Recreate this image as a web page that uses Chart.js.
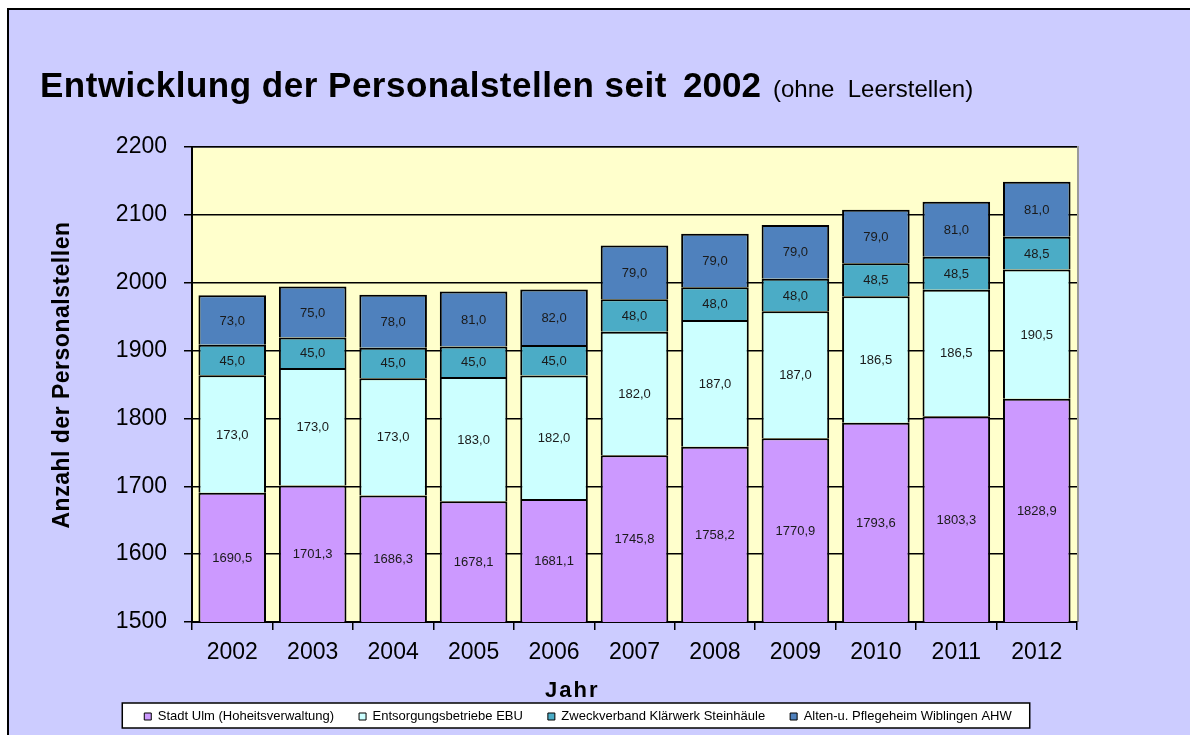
<!DOCTYPE html>
<html>
<head>
<meta charset="utf-8">
<script src="https://cdn.jsdelivr.net/npm/chart.js@4/dist/chart.umd.min.js"></script>
<style>
  html, body { margin: 0; padding: 0; background: #fff; }
  #wrap { width: 1190px; height: 735px; }
</style>
</head>
<body>
<div id="wrap"><canvas id="chart" width="1190" height="735"></canvas></div>
<script>
// data
const years = ['2002', '2003', '2004', '2005', '2006', '2007', '2008', '2009', '2010', '2011', '2012'];
const stadtUlm = [1690.5, 1701.3, 1686.3, 1678.1, 1681.1, 1745.8, 1758.2, 1770.9, 1793.6, 1803.3, 1828.9];
const ebu = [173.0, 173.0, 173.0, 183.0, 182.0, 182.0, 187.0, 187.0, 186.5, 186.5, 190.5];
const klaerwerk = [45.0, 45.0, 45.0, 45.0, 45.0, 48.0, 48.0, 48.0, 48.5, 48.5, 48.5];
const ahw = [73.0, 75.0, 78.0, 81.0, 82.0, 79.0, 79.0, 79.0, 79.0, 81.0, 81.0];
const seriesNames = ['Stadt Ulm (Hoheitsverwaltung)', 'Entsorgungsbetriebe EBU', 'Zweckverband Klärwerk Steinhäule', 'Alten-u. Pflegeheim Wiblingen AHW'];
const yTicks = [1500, 1600, 1700, 1800, 1900, 2000, 2100, 2200];

const colors = ['#CC99FF', '#CCFFFF', '#4BACC6', '#4F81BD'];
const FONT = '"Liberation Sans", Arial, sans-serif';

function fmt(v) {
  return v.toFixed(1).replace('.', ',');
}

// background, plot area, legend box, titles
const framePlugin = {
  id: 'frame',
  beforeDraw(chart) {
    const ctx = chart.ctx, a = chart.chartArea;
    ctx.save();
    ctx.fillStyle = '#fff';
    ctx.fillRect(0, 0, chart.width, chart.height);
    ctx.fillStyle = '#CCCCFF';
    ctx.fillRect(8, 9, chart.width, chart.height);
    ctx.strokeStyle = '#000';
    ctx.lineWidth = 2;
    ctx.beginPath();
    ctx.moveTo(8, chart.height);
    ctx.lineTo(8, 9);
    ctx.lineTo(chart.width, 9);
    ctx.stroke();

    ctx.fillStyle = '#FFFFCC';
    ctx.fillRect(a.left, a.top, a.right - a.left, a.bottom - a.top);
    ctx.strokeStyle = '#9a9a9a';
    ctx.lineWidth = 2;
    ctx.beginPath();
    ctx.moveTo(a.left, a.top);
    ctx.lineTo(a.right + 1, a.top);
    ctx.lineTo(a.right + 1, a.bottom);
    ctx.stroke();

    const hb = chart.legend.legendHitBoxes;
    if (hb && hb.length) {
      const first = hb[0], last = hb[hb.length - 1];
      const x0 = first.left - 22, x1 = last.left + last.width + 18;
      const y0 = first.top - 7, y1 = first.top + first.height + 5;
      ctx.fillStyle = '#fff';
      ctx.fillRect(x0, y0, x1 - x0, y1 - y0);
      ctx.strokeStyle = '#000';
      ctx.lineWidth = 1.5;
      ctx.strokeRect(x0, y0, x1 - x0, y1 - y0);
    }
    ctx.restore();
  },
  afterDraw(chart) {
    const ctx = chart.ctx;
    ctx.save();
    ctx.fillStyle = '#000';
    ctx.textBaseline = 'alphabetic';
    ctx.textAlign = 'left';
    ctx.font = 'bold 35px ' + FONT;
    ctx.letterSpacing = '0.5px';
    ctx.fillText('Entwicklung der Personalstellen seit', 40, 97);
    ctx.letterSpacing = '0px';
    ctx.fillText('2002', 683, 97);
    ctx.font = '24px ' + FONT;
    ctx.fillText('(ohne  Leerstellen)', 773, 97);

    // axis titles
    ctx.font = 'bold 22px ' + FONT;
    ctx.letterSpacing = '2px';
    ctx.textBaseline = 'middle';
    ctx.fillText('Jahr', 545, 691);

    ctx.font = 'bold 23px ' + FONT;
    ctx.letterSpacing = '0.5px';
    ctx.textAlign = 'center';
    ctx.translate(63, 375);
    ctx.rotate(-Math.PI / 2);
    ctx.fillText('Anzahl der Personalstellen', 0, 0);
    ctx.restore();
  }
};

// value labels in the middle of each segment
const labelPlugin = {
  id: 'segLabels',
  afterDatasetsDraw(chart) {
    const ctx = chart.ctx, a = chart.chartArea;
    ctx.save();
    ctx.font = '13px ' + FONT;
    ctx.fillStyle = '#1a1a1a';
    ctx.textAlign = 'center';
    ctx.textBaseline = 'middle';
    chart.data.datasets.forEach(function(ds, i) {
      const meta = chart.getDatasetMeta(i);
      meta.data.forEach(function(bar, j) {
        const top = Math.max(bar.y, a.top);
        const bottom = Math.min(bar.base, a.bottom);
        ctx.fillText(fmt(ds.data[j]), bar.x, (top + bottom) / 2 + 1);
      });
    });
    ctx.restore();
  }
};

const seriesData = [stadtUlm, ebu, klaerwerk, ahw];
const datasets = seriesData.map(function(d, i) {
  return {
    label: seriesNames[i],
    data: d,
    backgroundColor: colors[i],
    borderColor: '#000',
    borderWidth: {top: 2, left: 2, right: 2, bottom: 0},
    borderSkipped: false,
    inflateAmount: 0,
    barPercentage: 0.84,
    categoryPercentage: 1.0,
    clip: {left: 5, right: 5, top: 5, bottom: 0}
  };
});

Chart.defaults.font.family = FONT;
Chart.defaults.color = '#000';

const chart = new Chart(document.getElementById('chart'), {
  type: 'bar',
  data: { labels: years, datasets: datasets },
  options: {
    responsive: false,
    animation: false,
    layout: { padding: { left: 79, right: 113, top: 147, bottom: 2 } },
    plugins: {
      title: { display: false },
      tooltip: { enabled: false },
      legend: {
        position: 'bottom',
        labels: {
          font: { size: 13 },
          color: '#000',
          boxWidth: 7,
          boxHeight: 7,
          padding: 25,
          generateLabels: function(c) {
            return Chart.defaults.plugins.legend.labels.generateLabels(c).map(function(it) {
              it.lineWidth = 1;
              it.strokeStyle = '#000';
              return it;
            });
          }
        }
      }
    },
    scales: {
      x: {
        stacked: true,
        grid: { display: true, drawOnChartArea: false, drawTicks: true, tickLength: 8, color: '#000', lineWidth: 1.5 },
        border: { display: true, color: '#000', width: 2 },
        ticks: { font: { size: 23 }, color: '#000', padding: 9 },
        afterFit: function(s) { s.height = 63; }
      },
      y: {
        stacked: true,
        min: yTicks[0],
        max: yTicks[yTicks.length - 1],
        afterBuildTicks: function(s) { s.ticks = yTicks.map(function(v) { return {value: v}; }); },
        grid: { color: '#000', lineWidth: 1.5, tickLength: 8 },
        border: { display: true, color: '#000', width: 2 },
        ticks: { font: { size: 23 }, color: '#000', padding: 17, callback: function(v) { return String(v); } },
        afterFit: function(s) { s.width = 113; }
      }
    }
  },
  plugins: [framePlugin, labelPlugin]
});
</script>
</body>
</html>
